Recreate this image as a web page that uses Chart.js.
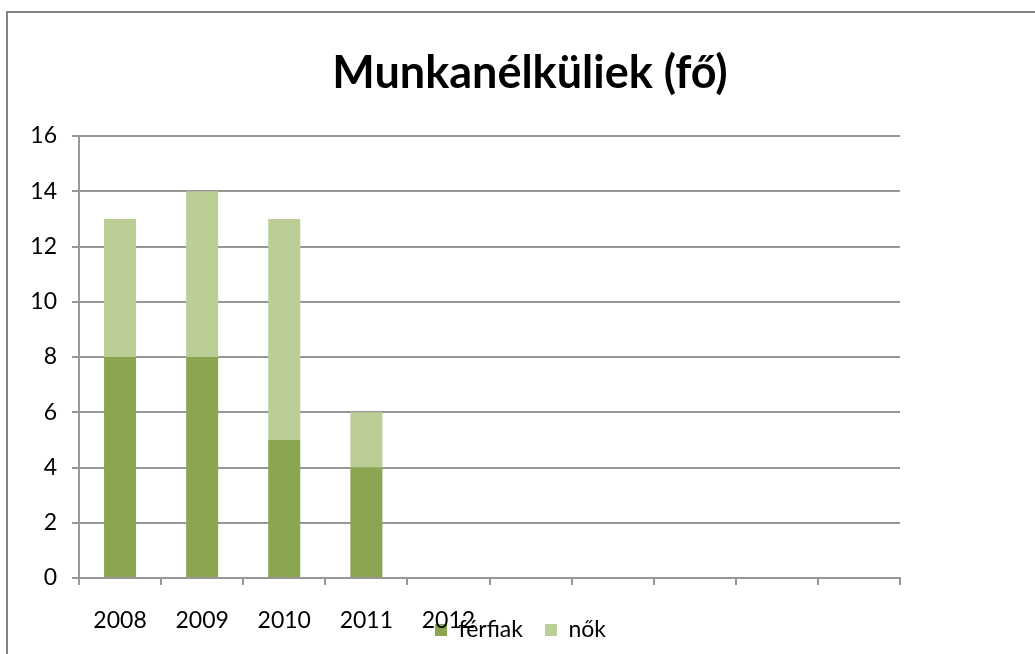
<!DOCTYPE html>
<html>
<head>
<meta charset="utf-8">
<script src="https://cdn.jsdelivr.net/npm/chart.js@4"></script>
<style>
  html, body { margin: 0; padding: 0; background: #fff; overflow: hidden; }
  #frame { position: absolute; left: 6px; top: 11px; width: 2000px; height: 2000px;
           border-left: 2px solid #848484; border-top: 2px solid #848484; }
  #wrap { position: absolute; left: 0; top: 0; width: 1035px; height: 654px; }
</style>
</head>
<body>
<div id="frame"></div>
<div id="wrap"><canvas id="chart"></canvas></div>
<script>
const years   = ['2008', '2009', '2010', '2011', '2012', '', '', '', '', ''];
const ferfiak = [8, 8, 5, 4, null, null, null, null, null, null];
const nok     = [5, 6, 8, 2, null, null, null, null, null, null];
const yTicks  = { min: 0, max: 16, step: 2 };

const gridGray = '#979797';

// Excel centres title and legend on its own chart box (wider than the plot),
// and lets the legend sit on top of the category labels
const nudge = {
  id: 'nudge',
  afterLayout(chart) {
    const t = chart.titleBlock;
    t.left = 0; t.right = 1060; t.width = 1060;
    const l = chart.legend;
    l.left = 0; l.right = 1041; l.width = 1041;
    l.top = 596.5; l.height = 55; l.bottom = l.top + l.height;
  }
};

Chart.defaults.font.family = 'Lato';
Chart.defaults.color = '#000';

new Chart(document.getElementById('chart'), {
  type: 'bar',
  data: {
    labels: years,
    datasets: [
      { label: 'férfiak', data: ferfiak, backgroundColor: '#8ba650', borderWidth: 0 },
      { label: 'nők',     data: nok,     backgroundColor: '#bace96', borderWidth: 0 }
    ]
  },
  options: {
    responsive: true, maintainAspectRatio: false, animation: false,
    layout: { padding: { left: 0, right: 135, top: 0, bottom: 5 } },
    datasets: { bar: { categoryPercentage: 1, barPercentage: 0.39 } },
    plugins: {
      title: {
        display: true, text: 'Munkanélküliek (fő)',
        font: { size: 45, weight: 'bold' }, color: '#000',
        padding: { top: 46, bottom: 36 }
      },
      legend: {
        position: 'bottom', maxHeight: 1,
        labels: { boxWidth: 12, boxHeight: 12, padding: 22, font: { size: 23 }, color: '#000' }
      },
      tooltip: { enabled: false }
    },
    scales: {
      x: {
        stacked: true,
        afterFit: s => { s.height = 70; },
        grid: { offset: true, drawOnChartArea: false, drawTicks: true, tickLength: 7, color: gridGray, lineWidth: 2 },
        border: { color: gridGray, width: 2 },
        ticks: { padding: 22, font: { size: 23 }, color: '#000', maxRotation: 0, autoSkip: false }
      },
      y: {
        stacked: true,
        min: yTicks.min, max: yTicks.max,
        afterFit: s => { s.width = 79; },
        grid: { color: gridGray, lineWidth: 2, tickLength: 7 },
        border: { color: gridGray, width: 2 },
        ticks: { stepSize: yTicks.step, padding: 15, font: { size: 23 }, color: '#000' }
      }
    }
  },
  plugins: [nudge]
});
</script>
</body>
</html>
